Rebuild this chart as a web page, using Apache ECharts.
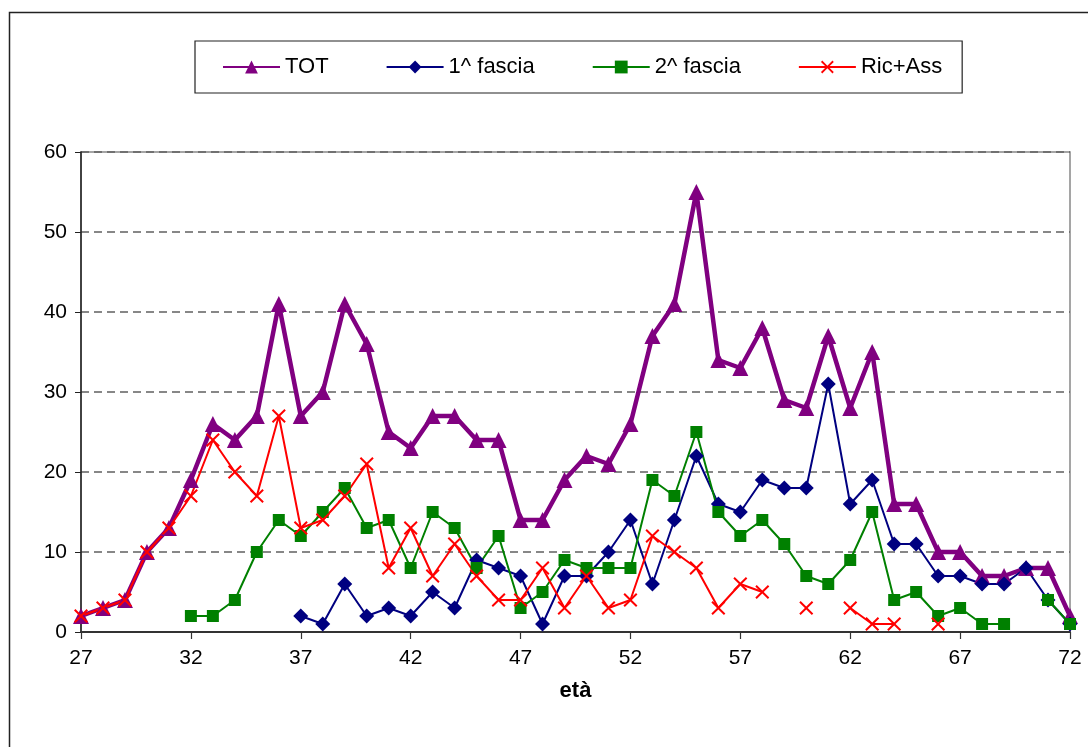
<!DOCTYPE html>
<html>
<head>
<meta charset="utf-8">
<title>età</title>
<script src="https://cdn.jsdelivr.net/npm/echarts@6/dist/echarts.min.js"></script>
<style>
  html, body { margin: 0; padding: 0; background: #fff; }
  #chart { width: 1088px; height: 747px; }
</style>
</head>
<body>
<div id="chart"></div>
<script>
// ages 27..72
const ages = [];
for (let a = 27; a <= 72; a++) ages.push(String(a));

const tot = [2, 3, 4, 10, 13, 19, 26, 24, 27, 41,
  27, 30, 41, 36, 25, 23, 27, 27, 24, 24,
  14, 14, 19, 22, 21, 26, 37, 41, 55, 34,
  33, 38, 29, 28, 37, 28, 35, 16, 16, 10,
  10, 7, 7, 8, 8, 2];

const fascia1 = [null, null, null, null, null, null, null, null, null, null,
  2, 1, 6, 2, 3, 2, 5, 3, 9, 8,
  7, 1, 7, 7, 10, 14, 6, 14, 22, 16,
  15, 19, 18, 18, 31, 16, 19, 11, 11, 7,
  7, 6, 6, 8, 4, 1];

const fascia2 = [null, null, null, null, null, 2, 2, 4, 10, 14,
  12, 15, 18, 13, 14, 8, 15, 13, 8, 12,
  3, 5, 9, 8, 8, 8, 19, 17, 25, 15,
  12, 14, 11, 7, 6, 9, 15, 4, 5, 2,
  3, 1, 1, null, 4, 1];

const ricAss = [2, 3, 4, 10, 13, 17, 24, 20, 17, 27,
  13, 14, 17, 21, 8, 13, 7, 11, 7, 4,
  4, 8, 3, 7, 3, 4, 12, 10, 8, 3,
  6, 5, null, 3, null, 3, 1, 1, null, 1,
  null, null, null, null, null, null];

const FONT = "'Liberation Sans', Arial, sans-serif";
const CROSS = "path://M0,1L1,0L5,4L9,0L10,1L6,5L10,9L9,10L5,6L1,10L0,9L4,5Z";

const chart = echarts.init(document.getElementById("chart"));

function line(name, data, color, width, symbol, size) {
  return {
    name: name,
    type: "line",
    data: data,
    symbol: symbol,
    symbolSize: size,
    showAllSymbol: true,
    connectNulls: false,
    animation: false,
    lineStyle: { color: color, width: width },
    itemStyle: { color: color, borderWidth: 0 }
  };
}

chart.setOption({
  backgroundColor: "#fff",
  textStyle: { fontFamily: FONT, color: "#000" },
  graphic: [{
    type: "rect",
    shape: { x: 9.5, y: 12.5, width: 1200, height: 900 },
    style: { fill: "none", stroke: "#222", lineWidth: 1.5 },
    silent: true,
    z: -10
  }],
  legend: {
    left: 195,
    top: 41,
    padding: [15, 20, 15, 27],
    borderColor: "#222",
    borderWidth: 1.2,
    itemWidth: 57,
    itemHeight: 16,
    itemGap: 57,
    textStyle: { fontFamily: FONT, fontSize: 22, color: "#000" },
    data: ["TOT", "1^ fascia", "2^ fascia", "Ric+Ass"]
  },
  grid: {
    left: 81, right: 18, top: 152, bottom: 115,
    show: true,
    borderColor: "#888",
    borderWidth: 1.5
  },
  xAxis: {
    type: "category",
    data: ages,
    boundaryGap: false,
    name: "età",
    nameLocation: "middle",
    nameGap: 48,
    nameTextStyle: { fontFamily: FONT, fontSize: 22, fontWeight: "bold", color: "#000" },
    axisLine: { lineStyle: { color: "#333", width: 2 } },
    axisTick: { interval: 4, length: 7, lineStyle: { color: "#333", width: 1.2 } },
    axisLabel: { interval: 4, margin: 16, fontSize: 21, color: "#000", fontFamily: FONT },
    splitLine: { show: false }
  },
  yAxis: {
    type: "value",
    min: 0,
    max: 60,
    interval: 10,
    axisLine: { show: true, lineStyle: { color: "#222", width: 1.5 } },
    axisTick: { show: true, length: 6, lineStyle: { color: "#222" } },
    axisLabel: { margin: 14, fontSize: 21, color: "#000", fontFamily: FONT },
    splitLine: { lineStyle: { color: "#606060", width: 1.5, type: [8, 5] } }
  },
  series: [
    line("TOT", tot, "#800080", 4.5, "triangle", 16),
    line("1^ fascia", fascia1, "#000080", 2, "diamond", 15),
    line("2^ fascia", fascia2, "#008000", 2, "rect", 12),
    line("Ric+Ass", ricAss, "#FF0000", 2, CROSS, 14)
  ]
});

window.addEventListener("resize", chart.resize);
</script>
</body>
</html>
